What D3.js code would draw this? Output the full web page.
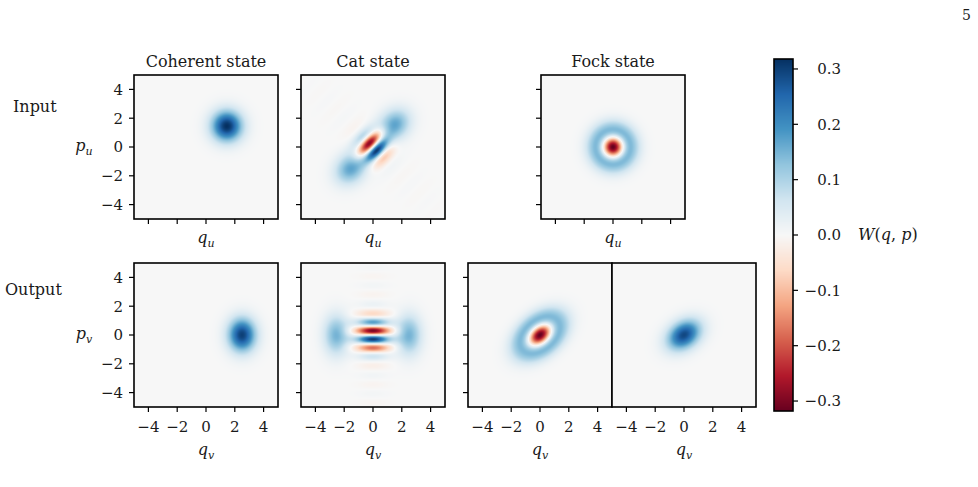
<!DOCTYPE html>
<html>
<head>
<meta charset="utf-8">
<script src="https://cdn.jsdelivr.net/npm/d3@7"></script>
<style>
body{margin:0;background:#fff;}
text{font-family:"DejaVu Serif",serif;fill:#1a1a1a;}
.m{font-style:italic;}
</style>
</head>
<body>
<svg id="fig" width="978" height="487"></svg>
<script>
var vmax = 0.318;
var axisTicks = [-4, -2, 0, 2, 4];
var cbTicks = [-0.3, -0.2, -0.1, 0.0, 0.1, 0.2, 0.3];
var rdbu = ['#67001f','#b2182b','#d6604d','#f4a582','#fddbc7','#f7f7f7','#d1e5f0','#92c5de','#4393c3','#2166ac','#053061'];
var titles = ['Coherent state', 'Cat state', 'Fock state'];
var rowLabels = ['Input', 'Output'];

// wigner pieces
// [amp, q0, p0, width along, width across, angle deg, ring, kq, kp, phase]
var coherentIn = [[0.318, 1.45, 1.45, 1.05, 1.05, 0, 0, 0, 0, 0]];
var catIn = [
  [0.17, 1.5, 1.55, 1.15, 0.95, 45, 0, 0, 0, 0],
  [0.17, -1.55, -1.5, 1.15, 0.95, 45, 0, 0, 0, 0],
  [0.34, 0, 0, 0.95, 0.95, 45, 0, 2.69, -2.69, -1.571],
  [0.006, 0, 0, 1.3, 6.0, 45, 0, 2.69, -2.69, -1.571]
];
var fockIn = [[-0.318, 0, 0, 1.0, 1.0, 0, -2, 0, 0, 0]];
var coherentOut = [[0.30, 2.5, 0, 0.95, 1.15, 0, 0, 0, 0, 0]];
var catOut = [
  [0.15, -2.55, 0, 0.85, 1.35, 0, 0, 0, 0, 0],
  [0.15, 2.5, 0, 0.85, 1.35, 0, 0, 0, 0, 0],
  [0.31, 0, 0, 1.1, 1.15, 0, 0, 0, 5, 1.571],
  [0.012, 0, 0, 1.1, 6.0, 0, 0, 0, 5, 1.571]
];
var fockOutA = [[-0.318, 0, 0, 1.3, 0.85, 40, -2, 0, 0, 0]];
var fockOutB = [[0.29, 0, 0, 1.25, 0.9, 35, 0, 0, 0, 0]];

var svg = d3.select('#fig');
var S = 144;
var color = d3.scaleLinear()
  .domain(d3.range(11).map(function(i){ return -vmax + i * 2 * vmax / 10; }))
  .range(rdbu).clamp(true);

function wig(terms, q, p){
  var s = 0;
  terms.forEach(function(t){
    var a = t[5] * Math.PI / 180;
    var dq = q - t[1], dp = p - t[2];
    var u = dq * Math.cos(a) + dp * Math.sin(a);
    var v = -dq * Math.sin(a) + dp * Math.cos(a);
    var R = (u / t[3]) * (u / t[3]) + (v / t[4]) * (v / t[4]);
    s += t[0] * Math.exp(-R) * (1 + t[6] * R) * Math.cos(t[7] * q + t[8] * p + t[9]);
  });
  return s;
}

function fmt(t){ return t < 0 ? '\u2212' + Math.abs(t) : '' + t; }

var panels = [
  {x:134, y:75, terms:coherentIn, yt:true, yl:true, xl:false, sub:'u', title:0},
  {x:301, y:75, terms:catIn, yt:true, yl:false, xl:false, sub:'u', title:1},
  {x:541, y:75, terms:fockIn, yt:true, yl:false, xl:false, sub:'u', title:2},
  {x:134, y:263, terms:coherentOut, yt:true, yl:true, xl:true, sub:'v'},
  {x:301, y:263, terms:catOut, yt:true, yl:false, xl:true, sub:'v'},
  {x:468, y:263, terms:fockOutA, yt:true, yl:false, xl:true, sub:'v'},
  {x:612, y:263, terms:fockOutB, yt:false, yl:false, xl:true, sub:'v'}
];

panels.forEach(function(pn){
  var x = d3.scaleLinear().domain([-5, 5]).range([0, S]);
  var y = d3.scaleLinear().domain([-5, 5]).range([S, 0]);
  var g = svg.append('g').attr('transform', 'translate(' + pn.x + ',' + pn.y + ')');

  var cv = document.createElement('canvas');
  cv.width = S; cv.height = S;
  var ctx = cv.getContext('2d');
  var img = ctx.createImageData(S, S);
  for (var j = 0; j < S; j++) {
    for (var i = 0; i < S; i++) {
      var c = d3.rgb(color(wig(pn.terms, x.invert(i + 0.5), y.invert(j + 0.5))));
      var k = (j * S + i) * 4;
      img.data[k] = c.r; img.data[k + 1] = c.g; img.data[k + 2] = c.b; img.data[k + 3] = 255;
    }
  }
  ctx.putImageData(img, 0, 0);
  g.append('image').attr('width', S).attr('height', S).attr('href', cv.toDataURL());

  // ticks
  g.selectAll('.xt').data(axisTicks).enter().append('line')
    .attr('x1', function(d){ return x(d); }).attr('x2', function(d){ return x(d); })
    .attr('y1', S).attr('y2', S + 5).attr('stroke', '#000').attr('stroke-width', 1.2);
  if (pn.yt) {
    g.selectAll('.yt').data(axisTicks).enter().append('line')
      .attr('y1', function(d){ return y(d); }).attr('y2', function(d){ return y(d); })
      .attr('x1', 0).attr('x2', -5).attr('stroke', '#000').attr('stroke-width', 1.2);
  }
  if (pn.yl) {
    g.selectAll('.yl').data(axisTicks).enter().append('text')
      .attr('x', -11).attr('y', function(d){ return y(d); }).attr('dy', '0.36em')
      .attr('text-anchor', 'end').style('font-size', '15px').text(fmt);
    var pl = g.append('text').attr('class', 'm').attr('x', -50).attr('y', S / 2 + 4)
      .attr('text-anchor', 'middle').style('font-size', '16px');
    pl.append('tspan').text('p');
    pl.append('tspan').attr('dy', 4).style('font-size', '11px').text(pn.sub);
  }
  if (pn.xl) {
    g.selectAll('.xl').data(axisTicks).enter().append('text')
      .attr('x', function(d){ return x(d); }).attr('y', S + 25)
      .attr('text-anchor', 'middle').style('font-size', '15px').text(fmt);
  }
  var ql = g.append('text').attr('class', 'm').attr('x', S / 2)
    .attr('y', pn.xl ? S + 48 : S + 24).attr('text-anchor', 'middle').style('font-size', '16px');
  ql.append('tspan').text('q');
  ql.append('tspan').attr('dy', 4).style('font-size', '11px').text(pn.sub);

  if (pn.title !== undefined) {
    g.append('text').attr('x', S / 2).attr('y', -8).attr('text-anchor', 'middle')
      .style('font-size', '16px').text(titles[pn.title]);
  }
  g.append('rect').attr('width', S).attr('height', S)
    .attr('fill', 'none').attr('stroke', '#000').attr('stroke-width', 1.6);
});

svg.append('text').attr('x', 13).attr('y', 112).style('font-size', '16px').text(rowLabels[0]);
svg.append('text').attr('x', 5).attr('y', 295).style('font-size', '16px').text(rowLabels[1]);

// colorbar
var cb = d3.scaleLinear().domain([-vmax, vmax]).range([411, 59]);
var cbx = 774, cbw = 19;
var cc = document.createElement('canvas');
cc.width = 1; cc.height = 352;
var cctx = cc.getContext('2d');
for (var r = 0; r < 352; r++) {
  cctx.fillStyle = color(cb.invert(59 + r + 0.5));
  cctx.fillRect(0, r, 1, 1);
}
svg.append('image').attr('x', cbx).attr('y', 59).attr('width', cbw).attr('height', 352)
  .attr('preserveAspectRatio', 'none').attr('href', cc.toDataURL());
svg.append('rect').attr('x', cbx).attr('y', 59).attr('width', cbw).attr('height', 352)
  .attr('fill', 'none').attr('stroke', '#000').attr('stroke-width', 1.6);
svg.selectAll('.cbt').data(cbTicks).enter().append('line')
  .attr('x1', cbx + cbw).attr('x2', cbx + cbw + 5)
  .attr('y1', function(d){ return cb(d); }).attr('y2', function(d){ return cb(d); })
  .attr('stroke', '#000').attr('stroke-width', 1.2);
svg.selectAll('.cbl').data(cbTicks).enter().append('text')
  .attr('x', 841).attr('y', function(d){ return cb(d); }).attr('dy', '0.36em')
  .attr('text-anchor', 'end').style('font-size', '15px')
  .text(function(d){ return d3.format('.1f')(d).replace('-', '\u2212'); });
var wl = svg.append('text').attr('class', 'm').attr('x', 858).attr('y', 240).style('font-size', '16px');
wl.append('tspan').text('W');
wl.append('tspan').style('font-style', 'normal').text('(');
wl.append('tspan').text('q');
wl.append('tspan').style('font-style', 'normal').text(', ');
wl.append('tspan').text('p');
wl.append('tspan').style('font-style', 'normal').text(')');

svg.append('text').attr('x', 962).attr('y', 20).style('font-size', '14px').text('5');
</script>
</body>
</html>
